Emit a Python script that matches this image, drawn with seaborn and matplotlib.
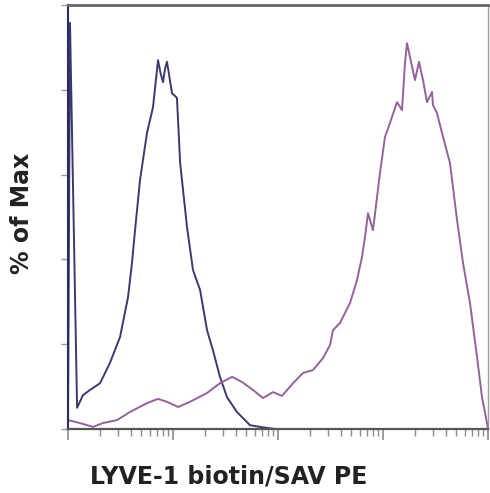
import numpy as np
import pandas as pd
import seaborn as sns
import matplotlib
matplotlib.use("Agg")
import matplotlib.pyplot as plt
from matplotlib.ticker import FixedLocator, NullFormatter, MultipleLocator

# control (unstained / isotype) histogram
ctrl_x = [1.0, 1.045, 1.22, 1.39, 1.62, 2.02, 2.51, 3.13, 3.73, 4.07,
          4.35, 4.85, 5.65, 6.45, 7.2, 7.6, 8.03, 8.4, 8.77, 9.78,
          10.9, 11.7, 13.6, 15.5, 18.1, 21.1, 24.0, 28.0, 32.7, 40.7,
          54.1, 67.4, 93.6]
ctrl_y = [0, 95.8, 5.0, 8.0, 9.2, 10.8, 15.6, 21.7, 31.1, 39.2,
          46.9, 58.7, 69.8, 75.9, 87.0, 84.0, 81.8, 85.0, 86.6, 79.2,
          78.1, 62.7, 47.6, 37.5, 32.8, 23.3, 18.6, 12.3, 7.5, 4.0,
          0.9, 0.5, 0.0]

# LYVE-1 stained histogram
lyve_x = [1.0, 1.30, 1.73, 2.15, 2.93, 3.89, 5.65, 7.2, 8.77, 11.2,
          14.5, 21.1, 28.0, 36.5, 45.4, 57.8, 72.0, 89.6, 109, 139,
          173, 215, 268, 313, 334, 389, 485, 565, 631, 674,
          720, 803, 936, 1045, 1166, 1360, 1517, 1620, 1693, 1808,
          2017, 2203, 2404, 2625, 2929, 2993, 3268, 3728, 4344, 5070,
          5780, 6740, 7860, 8770, 9780, 10000]
lyve_y = [2.1, 1.4, 0.5, 1.4, 2.1, 4.0, 6.1, 7.1, 6.4, 5.2,
          6.4, 8.5, 10.8, 12.3, 11.1, 9.2, 7.3, 8.7, 7.8, 10.8,
          13.2, 13.9, 16.7, 19.8, 23.3, 25.0, 29.7, 35.1, 40.6, 45.3,
          50.9, 46.9, 60.4, 68.9, 72.2, 77.1, 75.2, 86.3, 91.0, 87.7,
          82.3, 86.6, 82.3, 77.1, 79.5, 76.4, 74.5, 68.9, 62.7, 49.3,
          39.2, 29.7, 17.0, 7.5, 1.4, 0.0]

df = pd.concat([
    pd.DataFrame({'fl': ctrl_x, 'pct': ctrl_y, 'sample': 'control'}),
    pd.DataFrame({'fl': lyve_x, 'pct': lyve_y, 'sample': 'LYVE-1'}),
])

sns.set_style("white")
plt.rcParams['font.family'] = ['DejaVu Sans']
plt.rcParams['xtick.bottom'] = True
plt.rcParams['ytick.left'] = True

fig = plt.figure(figsize=(4.9, 4.93), dpi=100)
ax = fig.add_axes([68/490, 1-429/493, 420/490, 424/493])

mypal = {'control': '#3a3a6c', 'LYVE-1': '#93629a'}
sns.lineplot(data=df, x='fl', y='pct', hue='sample', palette=mypal,
             sort=False, estimator=None, linewidth=1.4, legend=False, ax=ax)

ax.set_xscale('log')
ax.set_xlim(1, 1e4)
ax.set_ylim(0, 100)

# log ticks (decades + subdivisions), no labels
decades = [1, 10, 100, 1000, 10000]
minors = [k * d for d in decades[:-1] for k in range(2, 10)]
ax.xaxis.set_major_locator(FixedLocator(decades))
ax.xaxis.set_minor_locator(FixedLocator(minors))
ax.xaxis.set_major_formatter(NullFormatter())
ax.xaxis.set_minor_formatter(NullFormatter())
ax.yaxis.set_major_locator(MultipleLocator(20))
ax.set_yticklabels([])
ax.tick_params(axis='x', which='major', direction='out', length=8, width=1.1, color='#808080', bottom=True)
ax.tick_params(axis='x', which='minor', direction='out', length=5, width=1.0, color='#8a8a8a', bottom=True)
ax.tick_params(axis='y', which='major', direction='out', length=5, width=1, color='#999999', left=True)

ax.spines['top'].set_color('#666666')
ax.spines['top'].set_linewidth(2)
ax.spines['right'].set_color('#999999')
ax.spines['right'].set_linewidth(1)
ax.spines['bottom'].set_color('#555555')
ax.spines['bottom'].set_linewidth(1.6)
ax.spines['left'].set_color('#2a2a66')
ax.spines['left'].set_linewidth(1.5)

ax.set_xlabel('LYVE-1 biotin/SAV PE', fontsize=17, fontweight='bold', color='#222222', va='baseline')
ax.xaxis.set_label_coords((229-68)/420, (429-484)/424)
ax.set_ylabel('% of Max', fontsize=17, fontweight='bold', color='#222222', va='center')
ax.yaxis.set_label_coords((22-68)/420, (429-213)/424)

plt.savefig('out.png', dpi=100)
